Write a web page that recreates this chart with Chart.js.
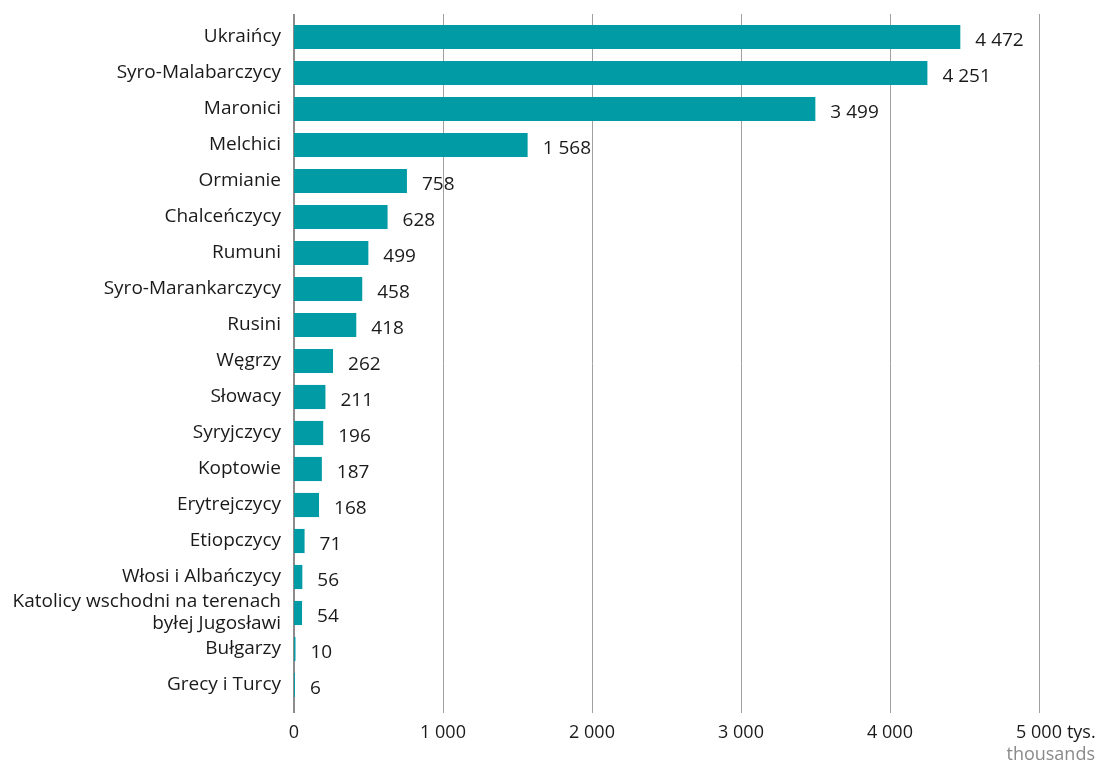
<!DOCTYPE html>
<html><head><meta charset="utf-8">
<script src="https://cdn.jsdelivr.net/npm/chart.js@4.4.1/dist/chart.umd.min.js"></script>
<style>html,body{margin:0;padding:0;background:#fff}#wrap{width:1098px;height:763px}</style>
</head><body><div id="wrap"><canvas id="c"></canvas></div>
<script>
const categories = ["Ukraińcy","Syro-Malabarczycy","Maronici","Melchici","Ormianie","Chalceńczycy","Rumuni","Syro-Marankarczycy","Rusini","Węgrzy","Słowacy","Syryjczycy","Koptowie","Erytrejczycy","Etiopczycy","Włosi i Albańczycy",["Katolicy wschodni na terenach","byłej Jugosławi"],"Bułgarzy","Grecy i Turcy"];
const values = [4472,4251,3499,1568,758,628,499,458,418,262,211,196,187,168,71,56,54,10,6];
const xTicks = [0,1000,2000,3000,4000,5000];
const unitLabel = "tys.";
const unitLabelEn = "thousands";
const FONT = "'Open Sans', sans-serif";
const fmt = v => String(v).replace(/\B(?=(\d{3})+(?!\d))/g, " ");

const gridPlugin = {
  id: 'grid',
  beforeDatasetsDraw(chart) {
    const {ctx, chartArea, scales:{x}} = chart;
    ctx.save();
    xTicks.forEach(t => {
      const px = Math.round(x.getPixelForValue(t));
      ctx.beginPath();
      ctx.strokeStyle = t === 0 ? '#8c8c8c' : '#a0a0a0';
      ctx.lineWidth = t === 0 ? 2 : 1;
      const off = t === 0 ? 0 : 0.5;
      ctx.moveTo(px + off, 14);
      ctx.lineTo(px + off, chartArea.bottom + 10);
      ctx.stroke();
    });
    ctx.restore();
  },
  afterDatasetsDraw(chart) {
    const {ctx, scales:{x,y}} = chart;
    ctx.save();
    ctx.font = "19px " + FONT;
    ctx.fillStyle = '#1a1a1a';
    ctx.textBaseline = 'middle';
    ctx.textAlign = 'left';
    values.forEach((v,i) => {
      ctx.fillText(fmt(v), x.getPixelForValue(v) + 15, y.getPixelForValue(i) + 4);
    });
    const px5 = x.getPixelForValue(xTicks[xTicks.length-1]);
    ctx.font = "18px " + FONT;
    const w = ctx.measureText(fmt(xTicks[xTicks.length-1])).width;
    ctx.fillText(unitLabel, px5 + w/2 + 5, 733);
    ctx.fillStyle = '#8a8a8a';
    ctx.textAlign = 'right';
    ctx.fillText(unitLabelEn, 1095, 755);
    ctx.restore();
  }
};

new Chart(document.getElementById('c'), {
  type: 'bar',
  data: { labels: categories, datasets: [{ data: values, backgroundColor: '#009ba5', barPercentage: 0.67, categoryPercentage: 1 }] },
  options: {
    indexAxis: 'y',
    responsive: true, maintainAspectRatio: false, animation: false,
    layout: { padding: { top: 19, right: 59, left: 0, bottom: 0 } },
    plugins: { legend: { display: false }, tooltip: { enabled: false } },
    scales: {
      x: {
        min: 0, max: 5000,
        afterBuildTicks: s => { s.ticks = xTicks.map(v => ({value: v})); },
        grid: { display: false, drawTicks: false },
        border: { display: false },
        ticks: { font: { size: 18, family: FONT }, color: '#1a1a1a', padding: 19, maxRotation: 0, callback: v => fmt(v) },
        afterFit: s => { s.height = 60; s.paddingLeft = 0; s.paddingRight = 0; }
      },
      y: {
        grid: { display: false, drawTicks: false },
        border: { display: false },
        ticks: { font: { size: 19, family: FONT, lineHeight: 1.15 }, color: '#1a1a1a', padding: 13, autoSkip: false },
        afterFit: s => { s.width = 294; s.paddingTop = 0; s.paddingBottom = 0; }
      }
    }
  },
  plugins: [gridPlugin]
});
</script></body></html>
